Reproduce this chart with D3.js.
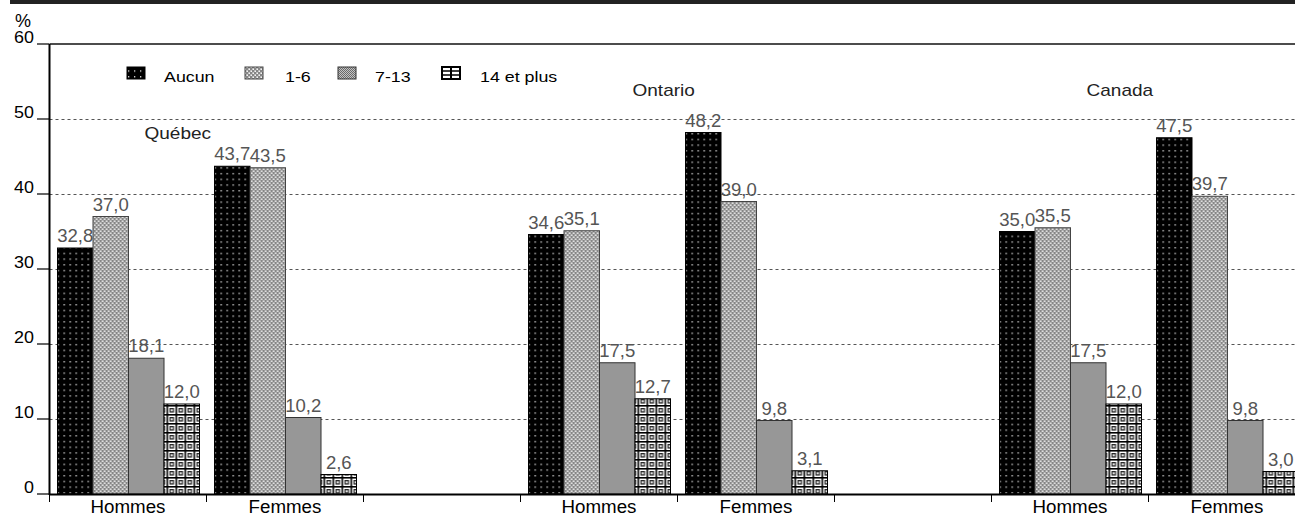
<!DOCTYPE html>
<html lang="fr">
<head>
<meta charset="UTF-8" />
<title>Nombre de jours</title>
<script src="https://cdnjs.cloudflare.com/ajax/libs/d3/7.8.5/d3.min.js"></script>
<style>
  body { margin: 0; background: #fff; }
  svg { display: block; }
</style>
</head>
<body>
<div id="chart"></div>
<script>
// data
var regions = ["Québec", "Ontario", "Canada"];
var sexes = ["Hommes", "Femmes"];
var series = ["Aucun", "1-6", "7-13", "14 et plus"];
var quebecHommes = [32.8, 37.0, 18.1, 12.0];
var quebecFemmes = [43.7, 43.5, 10.2, 2.6];
var ontarioHommes = [34.6, 35.1, 17.5, 12.7];
var ontarioFemmes = [48.2, 39.0, 9.8, 3.1];
var canadaHommes = [35.0, 35.5, 17.5, 12.0];
var canadaFemmes = [47.5, 39.7, 9.8, 3.0];
var yTicks = [0, 10, 20, 30, 40, 50, 60];

var groups = [
  { region: "Québec", sex: "Hommes", values: quebecHommes },
  { region: "Québec", sex: "Femmes", values: quebecFemmes },
  { region: "Ontario", sex: "Hommes", values: ontarioHommes },
  { region: "Ontario", sex: "Femmes", values: ontarioFemmes },
  { region: "Canada", sex: "Hommes", values: canadaHommes },
  { region: "Canada", sex: "Femmes", values: canadaFemmes }
];

// 8 slots: two per region plus an empty one between regions
var slots = [];
regions.forEach(function (r, i) {
  sexes.forEach(function (s) { slots.push(r + "|" + s); });
  if (i < regions.length - 1) slots.push("vide" + i);
});

var W = 1295, H = 518;
var svg = d3.select("#chart").append("svg").attr("width", W).attr("height", H);

var x = d3.scaleBand().domain(slots).range([49.5, 49.5 + 8 * 157]).padding(0);
var xs = d3.scaleBand().domain(series).range([8, 8 + 142]).padding(0);
var y = d3.scaleLinear().domain([0, 60]).range([494, 44]);

var fmt = function (v) { return d3.format(".1f")(v).replace(".", ","); };

// text helper, the original is stretched horizontally
function txt(g, tx, ty, s, size, sx, anchor, fill) {
  return g.append("text")
    .attr("transform", "translate(" + tx + "," + ty + ") scale(" + sx + ",1)")
    .attr("text-anchor", anchor || "start")
    .style("font-family", "'Liberation Sans', Arial, sans-serif")
    .style("font-size", size + "px")
    .style("fill", fill || "#000")
    .text(s);
}

/* patterns */
var defs = svg.append("defs");
var p0 = defs.append("pattern").attr("id", "pAucun").attr("patternUnits", "userSpaceOnUse")
  .attr("width", 6).attr("height", 5.7);
p0.append("rect").attr("width", 6).attr("height", 5.7).attr("fill", "#000");
p0.append("rect").attr("x", 2).attr("y", 2).attr("width", 1.3).attr("height", 1.3).attr("fill", "#e8e8e8");

var p1 = defs.append("pattern").attr("id", "p16").attr("patternUnits", "userSpaceOnUse")
  .attr("width", 4).attr("height", 4);
p1.append("rect").attr("width", 4).attr("height", 4).attr("fill", "#9a9a9a");
p1.append("rect").attr("x", 0.5).attr("y", 0.5).attr("width", 1.5).attr("height", 1.5).attr("fill", "#f4f4f4");
p1.append("rect").attr("x", 2.5).attr("y", 2.5).attr("width", 1.5).attr("height", 1.5).attr("fill", "#f4f4f4");
p1.append("rect").attr("x", 2.5).attr("y", 0.5).attr("width", 1).attr("height", 1).attr("fill", "#4a4a4a");
p1.append("rect").attr("x", 0.5).attr("y", 2.5).attr("width", 1).attr("height", 1).attr("fill", "#4a4a4a");

var p2 = defs.append("pattern").attr("id", "p713").attr("patternUnits", "userSpaceOnUse")
  .attr("width", 2).attr("height", 2);
p2.append("rect").attr("width", 2).attr("height", 2).attr("fill", "#c4c4c4");
p2.append("rect").attr("width", 1).attr("height", 1).attr("fill", "#6a6a6a");
p2.append("rect").attr("x", 1).attr("y", 1).attr("width", 1).attr("height", 1).attr("fill", "#6a6a6a");

var p3 = defs.append("pattern").attr("id", "p14").attr("patternUnits", "userSpaceOnUse")
  .attr("width", 9).attr("height", 9);
p3.append("rect").attr("width", 9).attr("height", 9).attr("fill", "#000");
p3.append("rect").attr("x", 1.6).attr("y", 1.6).attr("width", 7.4).attr("height", 7.4).attr("fill", "#fff");
p3.append("rect").attr("x", 3.0).attr("y", 3.0).attr("width", 4.6).attr("height", 4.6).attr("fill", "#2a2a2a");
p3.append("rect").attr("x", 4.3).attr("y", 4.3).attr("width", 2.0).attr("height", 2.0).attr("fill", "#fff");

var fills = { "Aucun": "url(#pAucun)", "1-6": "url(#p16)", "7-13": "url(#p713)", "14 et plus": "url(#p14)" };
var strokes = { "Aucun": "#000", "1-6": "#444", "7-13": "#333", "14 et plus": "#000" };

// top band
svg.append("rect").attr("x", 10).attr("y", 0).attr("width", W - 10).attr("height", 4).attr("fill", "#222");

// grid
var grid = svg.append("g");
grid.selectAll("line").data(yTicks.filter(function (d) { return d > 0 && d < 60; }))
  .enter().append("line")
  .attr("x1", x.range()[0]).attr("x2", W)
  .attr("y1", function (d) { return Math.round(y(d)) + 0.5; })
  .attr("y2", function (d) { return Math.round(y(d)) + 0.5; })
  .attr("stroke", "#555").attr("stroke-width", 1).attr("stroke-dasharray", "3,3");
svg.append("line").attr("x1", x.range()[0]).attr("x2", W)
  .attr("y1", y(60)).attr("y2", y(60)).attr("stroke", "#111").attr("stroke-width", 1.6);

// y axis
var yAx = svg.append("g");
yAx.append("line").attr("x1", 49.5).attr("x2", 49.5).attr("y1", y(60)).attr("y2", y(0) + 1)
  .attr("stroke", "#000").attr("stroke-width", 2);
yTicks.forEach(function (t) {
  yAx.append("line").attr("x1", 37).attr("x2", 49).attr("y1", y(t)).attr("y2", y(t))
    .attr("stroke", "#000").attr("stroke-width", 1.2);
  txt(yAx, 34, y(t) - 1, t, 16, 1.12, "end");
});
txt(svg, 15, 27, "%", 18, 1.0);

// bars
var gGroups = svg.selectAll("g.grp").data(groups).enter().append("g").attr("class", "grp")
  .attr("transform", function (d) { return "translate(" + x(d.region + "|" + d.sex) + ",0)"; });

gGroups.selectAll("rect").data(function (d) {
  return d.values.map(function (v, i) { return { key: series[i], v: v }; });
}).enter().append("rect")
  .attr("x", function (d) { return xs(d.key); })
  .attr("y", function (d) { return y(d.v); })
  .attr("width", xs.bandwidth())
  .attr("height", function (d) { return y(0) - y(d.v); })
  .attr("fill", function (d) { return fills[d.key]; })
  .attr("stroke", function (d) { return strokes[d.key]; })
  .attr("stroke-width", 1);

gGroups.each(function (d) {
  var g = d3.select(this);
  d.values.forEach(function (v, i) {
    txt(g, xs(series[i]) + xs.bandwidth() / 2, y(v) - 6, fmt(v), 17.5, 1.06, "middle", "#555");
  });
});

// x axis
var xAx = svg.append("g");
xAx.append("line").attr("x1", 49).attr("x2", W).attr("y1", y(0) + 0.5).attr("y2", y(0) + 0.5)
  .attr("stroke", "#000").attr("stroke-width", 2);
slots.forEach(function (s) {
  var x0 = x(s);
  xAx.append("line").attr("x1", x0).attr("x2", x0).attr("y1", y(0) + 1).attr("y2", y(0) + 8)
    .attr("stroke", "#000").attr("stroke-width", 1);
  if (s.indexOf("|") > 0) {
    txt(xAx, x0 + x.bandwidth() / 2, 513, s.split("|")[1], 17.5, 1.07, "middle");
  }
});

// region titles
var regionPos = { "Québec": [0, 95, 139], "Ontario": [3, 112, 96], "Canada": [6, 95, 96] };
regions.forEach(function (r) {
  var p = regionPos[r];
  txt(svg, x(slots[p[0]]) + p[1], p[2], r, 17, 1.12, "start", "#222");
});

// legend
var legendX = [127, 245, 338, 442];
var lg = svg.append("g");
series.forEach(function (s, i) {
  var lx = legendX[i];
  if (s === "14 et plus") {
    lg.append("rect").attr("x", lx).attr("y", 67).attr("width", 18).attr("height", 12)
      .attr("fill", "#fff").attr("stroke", "#000").attr("stroke-width", 2);
    lg.append("line").attr("x1", lx + 9).attr("x2", lx + 9).attr("y1", 67).attr("y2", 79)
      .attr("stroke", "#000").attr("stroke-width", 2);
    [71, 75].forEach(function (ly) {
      lg.append("line").attr("x1", lx).attr("x2", lx + 18).attr("y1", ly).attr("y2", ly)
        .attr("stroke", "#000").attr("stroke-width", 1.5);
    });
  } else {
    lg.append("rect").attr("x", lx).attr("y", 67).attr("width", 18).attr("height", 12)
      .attr("fill", fills[s]).attr("stroke", strokes[s]).attr("stroke-width", 1);
  }
  txt(lg, lx + (i === 3 ? 38 : i === 1 ? 40 : 37), 82, s, 15.5, 1.15);
});
</script>
</body>
</html>
